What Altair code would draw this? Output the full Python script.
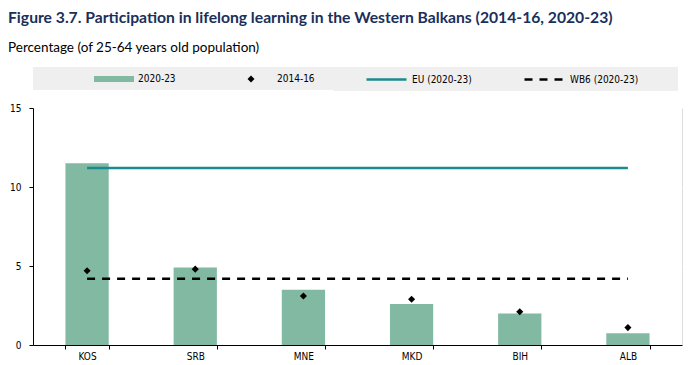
import altair as alt
import pandas as pd

countries = ["KOS", "SRB", "MNE", "MKD", "BIH", "ALB"]
v_2020_23 = [11.5, 4.9, 3.5, 2.6, 2.0, 0.75]
v_2014_16 = [4.7, 4.8, 3.1, 2.9, 2.1, 1.1]
eu_value = 11.2
wb6_value = 4.2

series_names = ["2020-23", "2014-16", "EU (2020-23)", "WB6 (2020-23)"]
bar_color = "#82b9a3"
eu_color = "#1b8a8c"
black = "#000000"

bars_df = pd.DataFrame({"country": countries, "value": v_2020_23, "series": series_names[0]})
pts_df = pd.DataFrame({"country": countries, "value": v_2014_16, "series": series_names[1]})
eu_df = pd.DataFrame({"country": countries, "value": [eu_value] * len(countries), "series": series_names[2]})
wb_df = pd.DataFrame({"country": countries, "value": [wb6_value] * len(countries), "series": series_names[3]})

FONT = "Liberation Sans Narrow, DejaVu Sans Condensed, Liberation Sans, sans-serif"
LEG_Y = -41
# invisible trailing filler (em spaces closed by a blank braille cell so it is not trimmed)
FILL = "\u2003\u2003\u2003\u2800"


def make_legend(lx, sym_offset, label_offset, sym_type, sym_size, extra):
    return alt.Legend(
        title=None,
        orient="none",
        legendX=lx,
        legendY=LEG_Y,
        fillColor="#efefef",
        padding=6,
        symbolOffset=sym_offset,
        symbolType=sym_type,
        symbolSize=sym_size,
        labelFont=FONT,
        labelFontSize=10,
        labelColor=black,
        labelOffset=label_offset,
        labelLimit=400,
        labelExpr="datum.label + '" + FILL + "'",
        **extra,
    )


x = alt.X(
    "country:N",
    sort=countries,
    title=None,
    scale=alt.Scale(paddingInner=0.6, paddingOuter=0.3),
    axis=alt.Axis(
        labelAngle=0,
        labelFont=FONT,
        labelFontSize=10,
        labelColor=black,
        domainColor=black,
        tickColor=black,
        tickBand="extent",
        tickSize=4,
        grid=True,
        gridColor="#ffffff",
        gridWidth=1,
        labelPadding=2,
    ),
)
y = alt.Y(
    "value:Q",
    title=None,
    scale=alt.Scale(domain=[0, 15], nice=False),
    axis=alt.Axis(
        values=[0, 5, 10, 15],
        labelFont=FONT,
        labelFontSize=10,
        labelColor=black,
        domainColor=black,
        tickColor=black,
        tickSize=4,
        grid=True,
        gridColor="#ffffff",
        gridWidth=1,
        labelPadding=8,
    ),
)

BAR_PATH = "M-4,-0.6H4V0.6H-4Z"
LINE_PATH = "M-4,0H4"
DIAMOND_PATH = "M0,-0.7L0.7,0L0,0.7L-0.7,0Z"

bars = alt.Chart(bars_df).mark_bar().encode(
    x=x, y=y,
    color=alt.Color("series:N", scale=alt.Scale(domain=[series_names[0]], range=[bar_color]),
                    legend=make_legend(0, 69, 18, BAR_PATH, 100, {})),
)
pts = alt.Chart(pts_df).mark_point(shape="diamond", filled=True, size=50, opacity=1).encode(
    x=x, y=y,
    color=alt.Color("series:N", scale=alt.Scale(domain=[series_names[1]], range=[black]),
                    legend=make_legend(150, 56, 20, DIAMOND_PATH, 100, {})),
)
eu = alt.Chart(eu_df).mark_line(strokeWidth=2.5).encode(
    x=x, y=y,
    color=alt.Color("series:N", scale=alt.Scale(domain=[series_names[2]], range=[eu_color]),
                    legend=make_legend(300, 41, 19, LINE_PATH, 100, {"symbolStrokeWidth": 2.5})),
)
wb = alt.Chart(wb_df).mark_line(strokeWidth=2.5, strokeDash=[8, 7]).encode(
    x=x, y=y,
    color=alt.Color("series:N", scale=alt.Scale(domain=[series_names[3]], range=[black]),
                    legend=make_legend(460, 39, 19, LINE_PATH, 100, {"symbolStrokeWidth": 2.5, "symbolDash": [8, 7]})),
)

chart = (
    alt.layer(bars, pts, eu, wb)
    .resolve_scale(color="independent")
    .properties(
        width=649,
        height=237,
        autosize=alt.AutoSizeParams(type="none"),
        padding={"left": 25, "top": 100, "right": 5, "bottom": 20},
        title=alt.TitleParams(
            text="Figure 3.7. Participation in lifelong learning in the Western Balkans (2014-16, 2020-23)",
            subtitle="Percentage (of 25-64 years old population)",
            anchor="start",
            frame="group",
            dx=-25,
            font="Lato",
            fontSize=15.7,
            fontWeight="bold",
            color="#1a2f5a",
            subtitleFont="Lato",
            subtitleFontSize=13.5,
            subtitleColor=black,
            subtitlePadding=14,
            offset=12,
        ),
    )
    .configure_view(fill="#efefef", stroke=None)
    .configure(background="#ffffff")
)

chart.save("out.html", embed_options={"renderer": "svg", "actions": False})
